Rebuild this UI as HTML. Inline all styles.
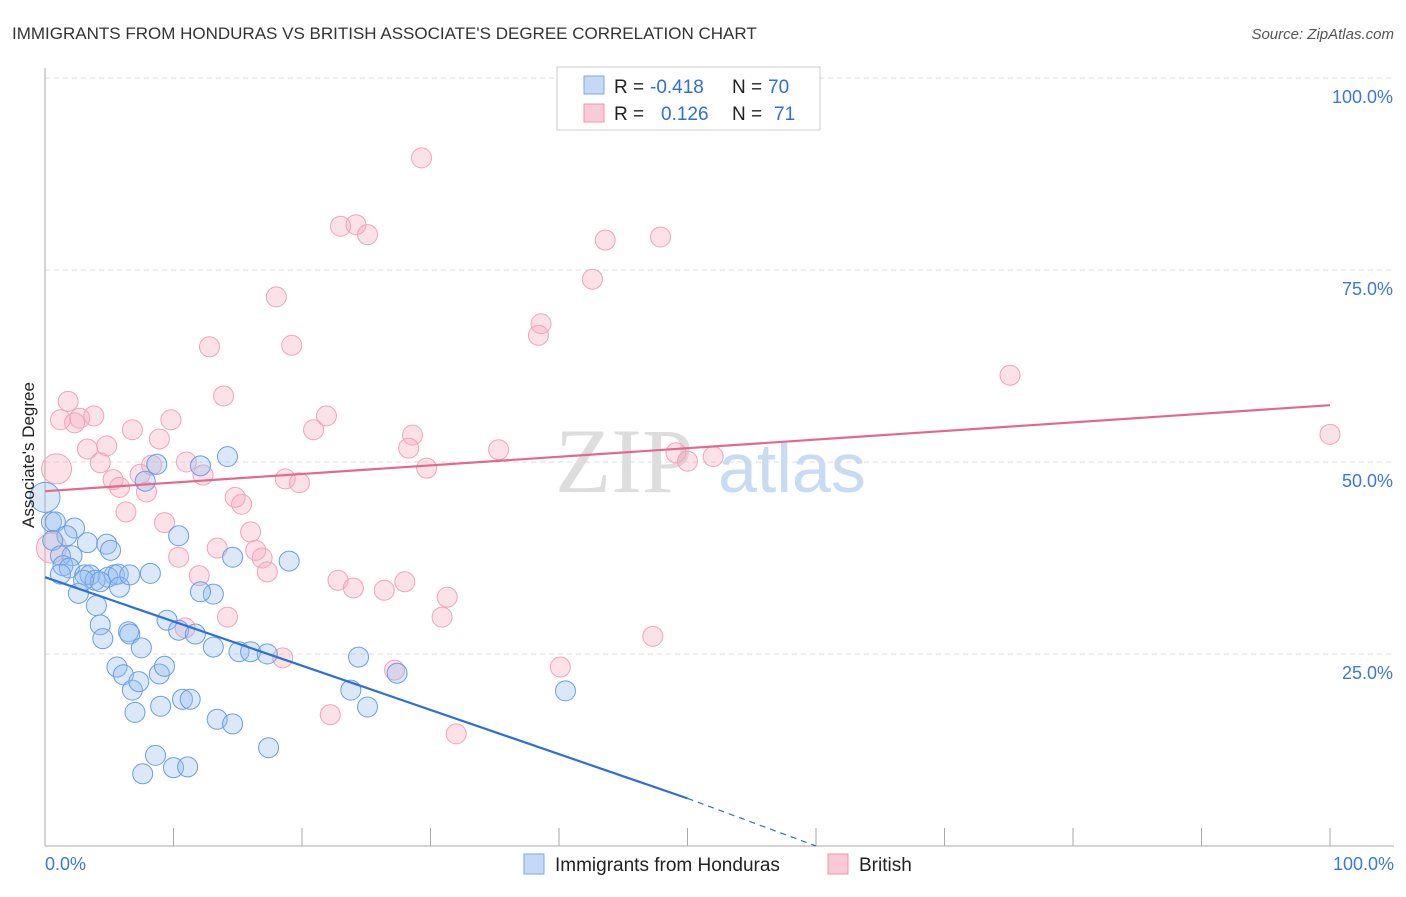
<!DOCTYPE html>
<html><head><meta charset="utf-8"><style>
body{margin:0;background:#fff;font-family:"Liberation Sans",sans-serif}
</style></head><body>
<svg id="c" width="1406" height="892" xmlns="http://www.w3.org/2000/svg" style="font-family:'Liberation Sans',sans-serif">
<text x="12" y="39" font-size="17" fill="#333">IMMIGRANTS FROM HONDURAS VS BRITISH ASSOCIATE'S DEGREE CORRELATION CHART</text>
<text x="1394" y="39" font-size="15" fill="#555" text-anchor="end" font-style="italic">Source: ZipAtlas.com</text>
<g id="grid"></g>
<text x="555" y="492" font-size="92" fill="#ddd" font-family="Liberation Serif,serif">ZIP</text>
<text x="718" y="492" font-size="70" fill="#c9daf3">atlas</text>
<g id="pts"></g>
<g id="trend"></g>
<text x="34" y="455" font-size="17" fill="#222" text-anchor="middle" transform="rotate(-90 34 455)">Associate's Degree</text>
<g>
<rect x="557" y="67" width="263" height="63" fill="#fff" stroke="#ccc"/>
<rect x="584" y="76" width="20" height="18" fill="#c5d9f6" stroke="#7da6e6"/>
<rect x="584" y="104" width="20" height="18" fill="#f9cad7" stroke="#ef95ae"/>
<text x="614" y="93" font-size="19" fill="#222">R =</text>
<text x="650" y="93" font-size="19" fill="#2d6fd6">-0.418</text>
<text x="732" y="93" font-size="19" fill="#222">N =</text>
<text x="768" y="93" font-size="19" fill="#2d6fd6">70</text>
<text x="614" y="120" font-size="19" fill="#222">R =</text>
<text x="661" y="120" font-size="19" fill="#2d6fd6">0.126</text>
<text x="732" y="120" font-size="19" fill="#222">N =</text>
<text x="774" y="120" font-size="19" fill="#2d6fd6">71</text>
</g>
<g>
<rect x="524" y="854" width="20" height="20" fill="#c5d9f6" stroke="#7da6e6"/>
<text x="555" y="871" font-size="19" fill="#222">Immigrants from Honduras</text>
<rect x="828" y="854" width="20" height="20" fill="#f9cad7" stroke="#ef95ae"/>
<text x="859" y="871" font-size="19" fill="#222">British</text>
</g>
</svg>
<script>
const X0=45,X1=1330,Y0=846,Y1=78;
const sx=v=>X0+(X1-X0)*v/100, sy=v=>Y0-(Y0-Y1)*v/100;
const yTicks=[25,50,75,100];
const yTickLabels=["25.0%","50.0%","75.0%","100.0%"];
const xTickLabels=["0.0%","100.0%"];
const bluePx=[[45,497],[52,522],[55,522],[75,528],[67,536],[53,540],[88,543],[107,544],[110,550],[72,556],[60,556],[63,566],[70,568],[60,574],[85,575],[90,575],[115,575],[108,577],[118,574],[95,580],[100,582],[78,593],[120,587],[96,606],[151,573],[179,536],[233,557],[289,561],[100,625],[103,639],[128,632],[130,634],[167,620],[141,648],[178,630],[195,634],[213,647],[239,652],[250,652],[267,654],[117,667],[124,675],[160,674],[165,666],[132,690],[139,682],[161,706],[182,699],[190,699],[135,712],[217,719],[232,724],[155,755],[268,748],[143,774],[174,768],[187,767],[213,594],[200,592],[228,457],[157,464],[201,466],[145,481],[359,657],[351,690],[367,707],[397,673],[566,691],[130,575],[84,580]];
const pinkPx=[[57,469],[68,401],[61,420],[75,423],[80,418],[94,416],[88,449],[100,463],[107,446],[133,430],[159,439],[171,420],[140,474],[152,465],[186,462],[203,475],[113,480],[120,487],[146,492],[126,512],[165,523],[179,557],[217,548],[199,576],[228,617],[235,497],[242,504],[250,532],[256,550],[262,558],[267,572],[224,396],[209,347],[276,297],[292,345],[326,416],[314,430],[285,479],[299,483],[338,580],[354,588],[384,590],[405,582],[413,435],[409,448],[427,468],[447,597],[442,617],[499,450],[341,226],[356,225],[367,235],[422,158],[541,324],[539,335],[593,279],[605,240],[660,237],[676,453],[688,461],[713,457],[653,636],[560,667],[394,670],[456,734],[330,715],[283,658],[185,628],[1010,375],[1330,434],[52,548]];
const blueX=bluePx.map(p=>+((p[0]-X0)/12.85).toFixed(1)), blueY=bluePx.map(p=>+((Y0-p[1])/7.68).toFixed(1));
const pinkX=pinkPx.map(p=>+((p[0]-X0)/12.85).toFixed(1)), pinkY=pinkPx.map(p=>+((Y0-p[1])/7.68).toFixed(1));
const blueTrend=[35.0,6.2,0];
const pinkTrend=[46.2,57.4];
const NS="http://www.w3.org/2000/svg";
function mk(t,a,p){const e=document.createElementNS(NS,t);for(const k in a)e.setAttribute(k,a[k]);p.appendChild(e);return e;}
const g=document.getElementById('grid');
yTicks.forEach((v,i)=>{
 const l=mk('line',{x1:X0,x2:1394,y1:sy(v),y2:sy(v),stroke:'#ddd','stroke-dasharray':'5,4'},g);
 
 
 const t=mk('text',{x:1393,y:sy(v)+25,'font-size':18,fill:'#3b78d8','text-anchor':'end'},g);t.textContent=yTickLabels[i];
 
 
});
mk('line',{x1:X0,x2:X0,y1:68,y2:846,stroke:'#aaa'},g);
mk('line',{x1:X0,x2:1394,y1:846,y2:846,stroke:'#aaa'},g);
for(let i=0;i<=10;i++){const l=mk('line',{x1:sx(i*10),x2:sx(i*10),y1:828,y2:846,stroke:'#aaa'},g);
 
 }
[[0,'start',45],[100,'end',1394]].forEach((d,i)=>{const t=mk('text',{x:d[2],y:870,'font-size':18,fill:'#3b78d8','text-anchor':d[1]},g);t.textContent=xTickLabels[i];
 
 });
const P=document.getElementById('pts');
function dots(xs,ys,fill,stroke,name,big){xs.forEach((x,i)=>{const r=big.includes(i)?15:10;
 const c=mk('circle',{cx:sx(x),cy:sy(ys[i]),r:r,fill:fill,stroke:stroke,'stroke-width':1},P);
 
 });}
dots(pinkX,pinkY,'rgba(246,170,192,0.35)','#f0a3b9','pink-point',[0,70]);
dots(blueX,blueY,'rgba(150,190,240,0.35)','#6a9de3','blue-point',[0]);
const T=document.getElementById('trend');
const b=mk('line',{x1:sx(0),y1:sy(blueTrend[0]),x2:sx(50),y2:sy(blueTrend[1]),stroke:'#2d6fd6','stroke-width':2.2},T);


const bd=mk('line',{x1:sx(50),y1:sy(blueTrend[1]),x2:sx(60),y2:sy(blueTrend[2]),stroke:'#2d6fd6','stroke-width':1.2,'stroke-dasharray':'6,5'},T);


const p=mk('line',{x1:sx(0),y1:sy(pinkTrend[0]),x2:sx(100),y2:sy(pinkTrend[1]),stroke:'#e4688e','stroke-width':2.2},T);


</script>
</body></html>
